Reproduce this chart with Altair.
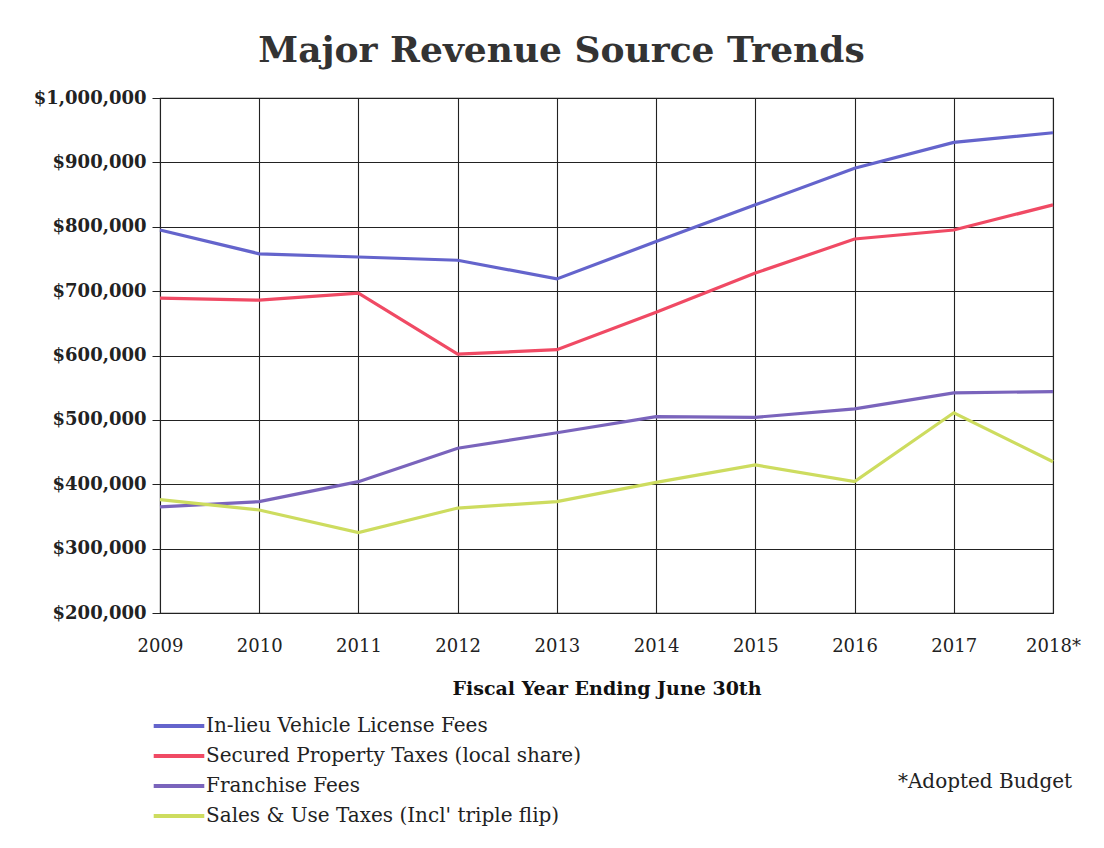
import altair as alt
import pandas as pd

years = ["2009", "2010", "2011", "2012", "2013", "2014", "2015", "2016", "2017", "2018*"]
series_names = [
    "In-lieu Vehicle License Fees",
    "Secured Property Taxes (local share)",
    "Franchise Fees",
    "Sales & Use Taxes (Incl' triple flip)",
]
vlf = [795000, 758000, 753000, 748000, 719000, 777000, 834000, 891000, 931000, 946000]
secured = [689000, 686000, 697000, 602000, 609000, 667000, 728000, 781000, 795000, 834000]
franchise = [365000, 373000, 404000, 456000, 480000, 505000, 504000, 517000, 542000, 544000]
sales = [376000, 360000, 325000, 363000, 373000, 403000, 430000, 404000, 511000, 435000]
colors = ["#6464cc", "#f04a64", "#7a64bc", "#cddc5f"]
y_ticks = [200000, 300000, 400000, 500000, 600000, 700000, 800000, 900000, 1000000]

rows = []
for name, vals in zip(series_names, [vlf, secured, franchise, sales]):
    for yr, v in zip(years, vals):
        rows.append({"Year": yr, "Value": v, "Series": name})
df = pd.DataFrame(rows)

FONT = "DejaVu Serif"

lines = alt.Chart(df).mark_line(strokeWidth=3.2).encode(
    x=alt.X("Year:O", sort=years, scale=alt.Scale(type="point", padding=0),
            axis=alt.Axis(title="Fiscal Year Ending June 30th", labelAngle=0,
                          grid=True, gridColor="#222", gridWidth=1.1,
                          tickSize=0, labelPadding=24, titlePadding=24,
                          domainColor="#222")),
    y=alt.Y("Value:Q", scale=alt.Scale(domain=[200000, 1000000], nice=False),
            axis=alt.Axis(title=None, values=y_ticks, format="$,.0f",
                          grid=True, gridColor="#222", gridWidth=1.1,
                          tickSize=8, tickColor="#222", labelPadding=6,
                          labelFontWeight="bold", domainColor="#222")),
    color=alt.Color("Series:N", sort=series_names,
                    scale=alt.Scale(domain=series_names, range=colors),
                    legend=alt.Legend(title=None, orient="none", legendX=1, legendY=610,
                                      direction="vertical", symbolType="M-1.6,0H1.6",
                                      symbolSize=1000, symbolStrokeWidth=4,
                                      labelFontSize=20, labelFont=FONT, labelColor="#222",
                                      labelOffset=9, rowPadding=2, labelLimit=600)),
    order=alt.Order("Year:O"),
)

note = alt.Chart(pd.DataFrame({"t": ["*Adopted Budget"]})).mark_text(
    font=FONT, fontSize=20, color="#222", align="center", baseline="middle"
).encode(x=alt.value(825), y=alt.value(684), text="t:N")

chart = alt.layer(lines, note).properties(
    width=893, height=515,
    title=alt.Title("Major Revenue Source Trends", font=FONT, fontSize=36,
                    fontWeight="bold", color="#333", offset=19, dx=-45),
    padding={"left": 25, "top": 25, "right": 5, "bottom": 0},
).configure_axis(
    labelFont=FONT, labelFontSize=18, labelColor="#222",
    titleFont=FONT, titleFontSize=19, titleFontWeight="bold", titleColor="#111",
).configure_view(stroke="#222", strokeWidth=1.1)

chart.save("out.html", embed_options={"renderer": "svg", "actions": False})
